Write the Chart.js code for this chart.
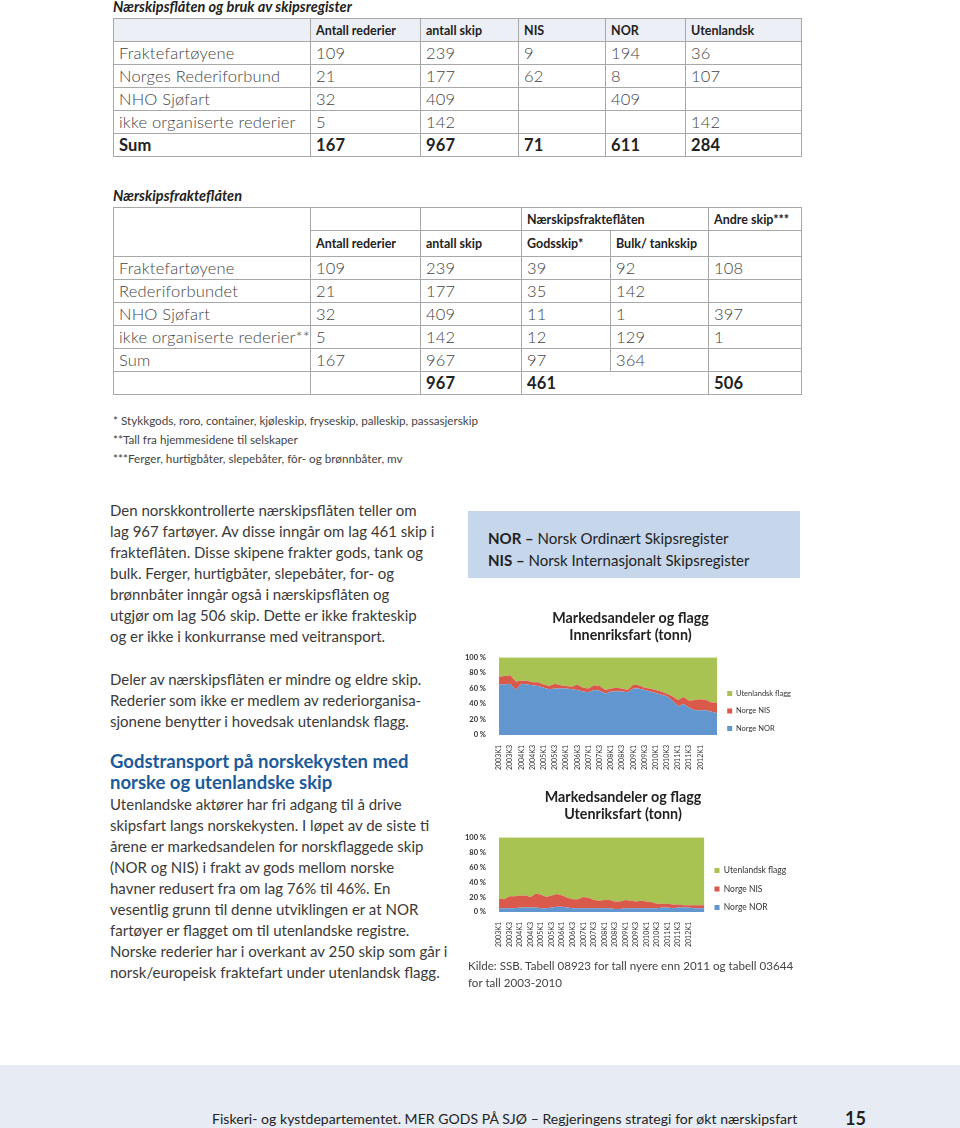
<!DOCTYPE html>
<html>
<head>
<meta charset="utf-8">
<script src="https://cdn.jsdelivr.net/npm/chart.js@4"></script>
<style>
  body { margin: 0; width: 960px; height: 1128px; position: relative; background: #fff; font-family: Lato, "Open Sans", sans-serif; color: #3a3a3a; overflow: hidden; }
  .abs { position: absolute; white-space: nowrap; }
  .cap { font-style: italic; font-weight: bold; font-size: 14.5px; color: #222; }
  table { position: absolute; left: 113px; width: 688px; border-collapse: collapse; table-layout: fixed; }
  td { border: 1px solid #a8a8a8; padding: 0 0 0 5px; font-size: 16.5px; letter-spacing: 0.2px; font-weight: 300; color: #444; height: 22px; white-space: nowrap; overflow: hidden; }
  td.h { font-size: 12.5px; letter-spacing: 0; font-weight: bold; color: #222; }
  tr.hd td { background: #eceff5; }
  td.b { font-weight: bold; color: #222; }
  .txt { font-size: 15px; line-height: 21px; color: #3a3a3a; }
  .note { font-size: 11.7px; line-height: 19px; color: #444; }
  .blue { font-size: 18.5px; font-weight: bold; line-height: 21px; color: #1b5b9a; }
  .box { position: absolute; left: 468px; top: 511px; width: 332px; height: 67px; background: #c6d6eb; }
  .box div { position: absolute; left: 20px; top: 16px; font-size: 15px; line-height: 22px; color: #222; white-space: nowrap; }
  .foot { position: absolute; left: 0; top: 1065px; width: 960px; height: 63px; background: #e6ebf4; }
</style>
</head>
<body>

<div class="abs cap" style="left:113px; top:-2px;">Nærskipsflåten og bruk av skipsregister</div>
<table style="top:18px;">
  <colgroup><col style="width:197px"><col style="width:110px"><col style="width:98px"><col style="width:87px"><col style="width:80px"><col style="width:116px"></colgroup>
  <tr class="hd"><td></td><td class="h">Antall rederier</td><td class="h">antall skip</td><td class="h">NIS</td><td class="h">NOR</td><td class="h">Utenlandsk</td></tr>
  <tr><td>Fraktefartøyene</td><td>109</td><td>239</td><td>9</td><td>194</td><td>36</td></tr>
  <tr><td>Norges Rederiforbund</td><td>21</td><td>177</td><td>62</td><td>8</td><td>107</td></tr>
  <tr><td>NHO Sjøfart</td><td>32</td><td>409</td><td></td><td>409</td><td></td></tr>
  <tr><td>ikke organiserte rederier</td><td>5</td><td>142</td><td></td><td></td><td>142</td></tr>
  <tr><td class="b">Sum</td><td class="b">167</td><td class="b">967</td><td class="b">71</td><td class="b">611</td><td class="b">284</td></tr>
</table>

<div class="abs cap" style="left:113px; top:187px;">Nærskipsfrakteflåten</div>
<table style="top:207px;">
  <colgroup><col style="width:197px"><col style="width:110px"><col style="width:101px"><col style="width:89px"><col style="width:98px"><col style="width:93px"></colgroup>
  <tr><td rowspan="2" style="height:48px"></td><td></td><td></td><td class="h" colspan="2">Nærskipsfrakteflåten</td><td class="h">Andre skip***</td></tr>
  <tr><td class="h" style="height:24px">Antall rederier</td><td class="h">antall skip</td><td class="h">Godsskip*</td><td class="h">Bulk/ tankskip</td><td></td></tr>
  <tr><td>Fraktefartøyene</td><td>109</td><td>239</td><td>39</td><td>92</td><td>108</td></tr>
  <tr><td>Rederiforbundet</td><td>21</td><td>177</td><td>35</td><td>142</td><td></td></tr>
  <tr><td>NHO Sjøfart</td><td>32</td><td>409</td><td>11</td><td>1</td><td>397</td></tr>
  <tr><td>ikke organiserte rederier**</td><td>5</td><td>142</td><td>12</td><td>129</td><td>1</td></tr>
  <tr><td>Sum</td><td>167</td><td>967</td><td>97</td><td>364</td><td></td></tr>
  <tr><td></td><td></td><td class="b">967</td><td class="b" colspan="2">461</td><td class="b">506</td></tr>
</table>

<div class="abs note" style="left:113px; top:411px;">* Stykkgods, roro, container, kjøleskip, fryseskip, palleskip, passasjerskip<br>**Tall fra hjemmesidene til selskaper<br>***Ferger, hurtigbåter, slepebåter, fôr- og brønnbåter, mv</div>

<div class="abs txt" style="left:110px; top:500px;">Den norskkontrollerte nærskipsflåten teller om<br>lag 967 fartøyer. Av disse inngår om lag 461 skip i<br>frakteflåten. Disse skipene frakter gods, tank og<br>bulk. Ferger, hurtigbåter, slepebåter, for- og<br>brønnbåter inngår også i nærskipsflåten og<br>utgjør om lag 506 skip. Dette er ikke frakteskip<br>og er ikke i konkurranse med veitransport.</div>
<div class="abs txt" style="left:110px; top:669px;">Deler av nærskipsflåten er mindre og eldre skip.<br>Rederier som ikke er medlem av rederiorganisa-<br>sjonene benytter i hovedsak utenlandsk flagg.</div>
<div class="abs blue" style="left:110px; top:751px;">Godstransport på norskekysten med<br>norske og utenlandske skip</div>
<div class="abs txt" style="left:110px; top:794px;">Utenlandske aktører har fri adgang til å drive<br>skipsfart langs norskekysten. I løpet av de siste ti<br>årene er markedsandelen for norskflaggede skip<br>(NOR og NIS) i frakt av gods mellom norske<br>havner redusert fra om lag 76% til 46%. En<br>vesentlig grunn til denne utviklingen er at NOR<br>fartøyer er flagget om til utenlandske registre.<br>Norske rederier har i overkant av 250 skip som går i<br>norsk/europeisk fraktefart under utenlandsk flagg.</div>

<div class="box"><div><b>NOR –</b> Norsk Ordinært Skipsregister<br><b>NIS –</b> Norsk Internasjonalt Skipsregister</div></div>

<canvas id="innenChart" width="345" height="182" style="position:absolute; left:460px; top:598px;"></canvas>
<canvas id="utenChart" width="345" height="177" style="position:absolute; left:460px; top:777px;"></canvas>

<div class="abs" style="left:468px; top:957px; font-size:11.6px; line-height:17px; color:#444;">Kilde: SSB. Tabell 08923 for tall nyere enn 2011 og tabell 03644<br>for tall 2003-2010</div>

<div class="foot"></div>
<div class="abs" style="left:212px; top:1110px; font-size:14px; letter-spacing:0.05px; color:#222;">Fiskeri- og kystdepartementet. MER GODS PÅ SJØ – Regjeringens strategi for økt nærskipsfart</div>
<div class="abs" style="left:845px; top:1107px; font-size:18px; font-weight:bold; color:#222;">15</div>

<script>
// kvartaler og viste akseetiketter
var quarters = ['2003K1','2003K2','2003K3','2003K4','2004K1','2004K2','2004K3','2004K4',
  '2005K1','2005K2','2005K3','2005K4','2006K1','2006K2','2006K3','2006K4',
  '2007K1','2007K2','2007K3','2007K4','2008K1','2008K2','2008K3','2008K4',
  '2009K1','2009K2','2009K3','2009K4','2010K1','2010K2','2010K3','2010K4',
  '2011K1','2011K2','2011K3','2011K4','2012K1','2012K2','2012K3','2012K4'];
var tickLabels = ['2003K1','2003K3','2004K1','2004K3','2005K1','2005K3','2006K1','2006K3',
  '2007K1','2007K3','2008K1','2008K3','2009K1','2009K3','2010K1','2010K3','2011K1','2011K3','2012K1'];
var yTicks = [0, 20, 40, 60, 80, 100];

// Innenriksfart (prosent)
var innenNOR = [65,65,66,58,66,65,64,63,61,59,60,60,60,59,58,56,55,58,57,53,56,56,56,55,60,60,58,56,54,52,50,44,37,40,35,32,32,32,30,28];
var innenNIS = [10,11,11,11,4,5,4,5,4,4,6,4,3,3,7,5,5,6,6,5,4,5,4,3,5,4,3,4,4,4,3,6,8,9,9,13,14,13,12,14];
var innenUtl = [25,24,23,31,30,30,32,32,35,37,34,36,37,38,35,39,40,36,37,42,40,39,40,42,35,36,39,40,42,44,47,50,55,51,56,55,54,55,58,58];

// Utenriksfart (prosent)
var utenNOR = [5,5,5,5,6,6,6,6,5,5,6,7,7,6,5,5,5,5,5,5,5,5,4,4,5,5,5,5,5,5,5,6,6,5,6,6,6,5,5,5];
var utenNIS = [13,12,16,16,16,16,14,19,18,15,16,17,15,13,12,12,15,14,11,10,11,11,10,10,11,10,9,10,9,8,6,5,5,5,4,3,3,4,4,4];
var utenUtl = [82,83,79,79,78,78,80,75,77,80,78,76,78,81,83,83,80,81,84,85,84,84,86,86,84,85,86,85,86,87,89,89,89,90,90,91,91,91,91,91];

var blue = '#6196cf', red = '#d95a4b', green = '#a9c352';

function areaSet(label, data, color, fill) {
    return {
        label: label,
        data: data,
        backgroundColor: color,
        borderColor: color,
        borderWidth: 0,
        pointRadius: 0,
        fill: fill
    };
}

function makeChart(id, title, nor, nis, utl, legendSize, titleGap, pad) {
    var ctx = document.getElementById(id).getContext('2d');
    return new Chart(ctx, {
        type: 'line',
        data: {
            labels: quarters,
            datasets: [
                areaSet('Norge NOR', nor, blue, 'origin'),
                areaSet('Norge NIS', nis, red, '-1'),
                areaSet('Utenlandsk flagg', utl, green, '-1')
            ]
        },
        options: {
            responsive: false,
            animation: false,
            layout: { padding: pad },
            plugins: {
                title: {
                    display: true,
                    text: ['Markedsandeler og flagg', title],
                    color: '#222',
                    font: { family: 'Lato', size: 14.3, weight: 'bold', lineHeight: 1.2 },
                    padding: { top: 12, bottom: titleGap }
                },
                legend: {
                    position: 'right',
                    align: 'center',
                    reverse: true,
                    // empty legend title, only used to push the items down
                    title: { display: true, text: '', font: { size: 7.5 }, padding: { top: 43, bottom: 0 } },
                    labels: {
                        boxWidth: 5,
                        boxHeight: 5,
                        padding: 10,
                        color: '#333',
                        font: { family: 'Lato', size: legendSize }
                    }
                },
                tooltip: { enabled: false }
            },
            scales: {
                x: {
                    grid: { display: false },
                    border: { display: false },
                    ticks: {
                        autoSkip: false,
                        maxRotation: 90,
                        minRotation: 90,
                        padding: 2,
                        color: '#333',
                        font: { family: 'Lato', size: 7 },
                        callback: function (value) {
                            var lab = this.getLabelForValue(value);
                            return tickLabels.indexOf(lab) >= 0 ? lab : '';
                        }
                    }
                },
                y: {
                    stacked: true,
                    min: 0,
                    max: 100,
                    grid: { display: false },
                    border: { display: false },
                    afterBuildTicks: function (axis) {
                        axis.ticks = yTicks.map(function (v) { return { value: v }; });
                    },
                    ticks: {
                        padding: 5,
                        color: '#333',
                        font: { family: 'Lato', size: 7.5, weight: 'bold' },
                        callback: function (v) { return v + ' %'; }
                    }
                }
            }
        }
    });
}

var innenChart = makeChart('innenChart', 'Innenriksfart (tonn)', innenNOR, innenNIS, innenUtl, 7.5, 13, { left: 0, right: 4, bottom: 8 });
var utenChart = makeChart('utenChart', 'Utenriksfart (tonn)', utenNOR, utenNIS, utenUtl, 8.5, 14, { left: 0, right: 19, bottom: 5 });
</script>
</body>
</html>
